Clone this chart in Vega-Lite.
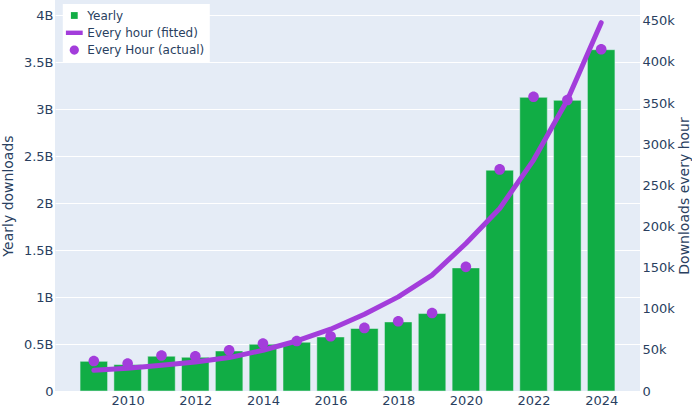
{
  "$schema": "https://vega.github.io/schema/vega-lite/v6.json",
  "width": 585,
  "height": 391,
  "autosize": {"type": "none"},
  "padding": {"left": 55, "top": 0, "right": 52, "bottom": 16},
  "background": "white",
  "data": {
    "values": [
      {"year": 2009, "yearly": 316000000, "hourly": 36500, "fitted": 25200},
      {"year": 2010, "yearly": 281000000, "hourly": 33300, "fitted": 27600},
      {"year": 2011, "yearly": 370000000, "hourly": 43100, "fitted": 31300},
      {"year": 2012, "yearly": 359000000, "hourly": 42200, "fitted": 35300},
      {"year": 2013, "yearly": 426000000, "hourly": 49500, "fitted": 40600},
      {"year": 2014, "yearly": 497000000, "hourly": 57700, "fitted": 49500},
      {"year": 2015, "yearly": 519000000, "hourly": 60800, "fitted": 60800},
      {"year": 2016, "yearly": 575000000, "hourly": 66600, "fitted": 75100},
      {"year": 2017, "yearly": 665000000, "hourly": 76700, "fitted": 93300},
      {"year": 2018, "yearly": 735000000, "hourly": 84800, "fitted": 114400},
      {"year": 2019, "yearly": 824000000, "hourly": 94900, "fitted": 140800},
      {"year": 2020, "yearly": 1310000000, "hourly": 150900, "fitted": 179300},
      {"year": 2021, "yearly": 2350000000, "hourly": 269400, "fitted": 221900},
      {"year": 2022, "yearly": 3125000000, "hourly": 357700, "fitted": 280700},
      {"year": 2023, "yearly": 3093000000, "hourly": 353700, "fitted": 353700},
      {"year": 2024, "yearly": 3632000000, "hourly": 415400, "fitted": 447700}
    ]
  },
  "encoding": {
    "x": {
      "field": "year",
      "type": "quantitative",
      "scale": {"domain": [2008, 2025], "nice": false, "zero": false},
      "axis": {
        "title": null,
        "values": [2010, 2012, 2014, 2016, 2018, 2020, 2022, 2024],
        "format": "d",
        "grid": false,
        "ticks": false,
        "domain": false,
        "labelPadding": 3
      }
    }
  },
  "layer": [
    {
      "mark": {"type": "bar", "size": 27.5, "color": "#11ad45", "stroke": "#e5ecf6", "strokeWidth": 0.5},
      "encoding": {
        "y": {
          "field": "yearly",
          "type": "quantitative",
          "scale": {"domain": [0, 4161000000], "nice": false},
          "axis": {
            "title": "Yearly downloads",
            "orient": "left",
            "values": [0, 500000000, 1000000000, 1500000000, 2000000000, 2500000000, 3000000000, 3500000000, 4000000000],
            "labelExpr": "datum.value == 0 ? '0' : format(datum.value / 1e9, '~g') + 'B'",
            "labelPadding": 2,
            "titlePadding": 8
          }
        }
      }
    },
    {
      "layer": [
        {
          "mark": {"type": "line", "color": "#a33ddb", "strokeWidth": 5, "strokeCap": "round", "strokeJoin": "round"},
          "encoding": {
            "y": {
              "field": "fitted",
              "type": "quantitative",
              "scale": {"domain": [0, 475300], "nice": false},
              "axis": {
                "title": "Downloads every hour",
                "orient": "right",
                "values": [0, 50000, 100000, 150000, 200000, 250000, 300000, 350000, 400000, 450000],
                "labelExpr": "datum.value == 0 ? '0' : format(datum.value / 1000, '~g') + 'k'",
                "labelPadding": 2,
                "titleAngle": 270,
                "titleBaseline": "top",
                "titlePadding": 3
              }
            }
          }
        },
        {
          "mark": {"type": "point", "filled": true, "size": 85, "opacity": 1},
          "encoding": {
            "y": {"field": "hourly", "type": "quantitative"},
            "color": {
              "datum": "Every Hour (actual)",
              "scale": {
                "domain": ["Yearly", "Every hour (fitted)", "Every Hour (actual)"],
                "range": ["#11ad45", "#a33ddb", "#a33ddb"]
              },
              "legend": {
                "title": null,
                "orient": "none",
                "legendX": 7.8,
                "legendY": 4
              }
            },
            "shape": {
              "datum": "Every Hour (actual)",
              "scale": {
                "domain": ["Yearly", "Every hour (fitted)", "Every Hour (actual)"],
                "range": [
                  "M-0.85,-0.85L0.85,-0.85L0.85,0.85L-0.85,0.85Z",
                  "M-2.1,-0.55L2.1,-0.55L2.1,0.55L-2.1,0.55Z",
                  "M1.15,0A1.15,1.15,0,1,1,-1.15,0A1.15,1.15,0,1,1,1.15,0Z"
                ]
              },
              "legend": {
                "title": null,
                "orient": "none",
                "legendX": 7.8,
                "legendY": 4
              }
            }
          }
        }
      ]
    }
  ],
  "resolve": {"scale": {"y": "independent"}},
  "config": {
    "font": "DejaVu Sans",
    "view": {"stroke": null, "fill": "#e5ecf6"},
    "axis": {
      "labelFont": "DejaVu Sans",
      "labelFontSize": 13,
      "labelColor": "#2a3f5f",
      "titleFont": "DejaVu Sans",
      "titleFontSize": 14,
      "titleFontWeight": "normal",
      "titleColor": "#2a3f5f",
      "gridColor": "white",
      "gridWidth": 1,
      "gridOpacity": 1,
      "ticks": false,
      "domain": false
    },
    "legend": {
      "fillColor": "white",
      "padding": 5.5,
      "labelFont": "DejaVu Sans",
      "labelFontSize": 12,
      "labelColor": "#2a3f5f",
      "labelOffset": 7,
      "rowPadding": 5.3,
      "symbolSize": 64,
      "symbolOpacity": 1,
      "symbolStrokeWidth": 0
    }
  }
}
